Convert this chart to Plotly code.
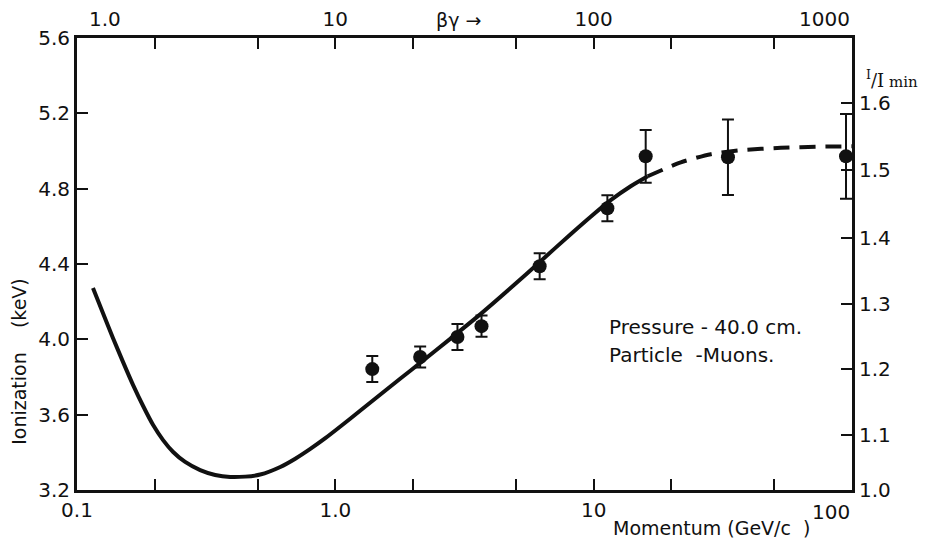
import plotly.graph_objects as go

# ---- data ----
momentum = [1.39, 2.13, 2.97, 3.68, 6.18, 11.3, 15.9, 33.1, 94.8]          # GeV/c
ionization = [3.842, 3.906, 4.012, 4.070, 4.388, 4.696, 4.972, 4.967, 4.972]  # keV
ion_err = [0.069, 0.056, 0.069, 0.056, 0.069, 0.069, 0.14, 0.20, 0.225]

# theoretical curve (solid part)
curve_p = [0.1153, 0.1261, 0.1379, 0.1508, 0.1649, 0.1803, 0.1971, 0.2154, 0.2356,
           0.2622, 0.2998, 0.3426, 0.3917, 0.4479, 0.5121, 0.6122, 0.6998, 0.8000,
           0.9146, 1.0457, 1.2503, 1.4944, 1.7862, 2.136, 2.791, 3.648, 4.768, 6.232,
           8.145, 9.737, 11.64, 13.91, 16.19]
curve_kev = [4.272, 4.139, 4.006, 3.879, 3.757, 3.646, 3.545, 3.465, 3.402,
             3.349, 3.306, 3.280, 3.269, 3.271, 3.282, 3.322, 3.366, 3.418,
             3.475, 3.537, 3.622, 3.707, 3.792, 3.876, 4.004, 4.134, 4.272, 4.415,
             4.558, 4.651, 4.739, 4.813, 4.866]

# extrapolated (dashed) part
dashed_p = [16.19, 21.74, 28.41, 37.14, 53.06, 75.83, 100.0]
dashed_kev = [4.866, 4.940, 4.983, 5.004, 5.017, 5.023, 5.025]

x_tickvals = [0.1, 0.2, 0.5, 1, 2, 5, 10, 20, 50, 100]
x_ticktext = ["0.1", "", "", "1.0", "", "", "10", "", "", ""]
bg_tickvals = [1, 2, 5, 10, 20, 50, 100, 200, 500, 1000]
bg_ticktext = ["", "", "", "10", "", "", "100", "", "", ""]
y_tickvals = [3.2, 3.6, 4.0, 4.4, 4.8, 5.2, 5.6]
y_ticktext = ["3.2", "3.6", "4.0", "4.4", "4.8", "5.2", "5.6"]
ratio_tickvals = [3.2, 3.492, 3.842, 4.187, 4.537, 4.898, 5.253]   # keV level of each I/Imin mark
ratio_ticktext = ["1.0", "1.1", "1.2", "1.3", "1.4", "1.5", "1.6"]

FONT = "DejaVu Sans"
BLACK = "#111111"

fig = go.Figure()

fig.add_trace(go.Scatter(x=curve_p, y=curve_kev, mode="lines",
                         line=dict(color=BLACK, width=4, shape="spline", smoothing=0.6),
                         hoverinfo="skip", showlegend=False))
fig.add_trace(go.Scatter(x=dashed_p, y=dashed_kev, mode="lines",
                         line=dict(color=BLACK, width=4, dash="16px,10px",
                                   shape="spline", smoothing=0.6),
                         hoverinfo="skip", showlegend=False))
fig.add_trace(go.Scatter(x=momentum, y=ionization, mode="markers",
                         marker=dict(color=BLACK, size=14),
                         error_y=dict(type="data", array=ion_err, color=BLACK,
                                      thickness=2, width=6),
                         showlegend=False))
# invisible trace to activate top / right axes
fig.add_trace(go.Scatter(x=[1, 1000], y=[3.2, 3.2], xaxis="x2", yaxis="y2",
                         mode="lines", line=dict(width=0), opacity=0,
                         hoverinfo="skip", showlegend=False))

tickfont = dict(family=FONT, size=20, color=BLACK)
common = dict(ticks="inside", ticklen=11, tickwidth=2, tickcolor=BLACK,
              showline=True, linewidth=3, linecolor=BLACK, showgrid=False,
              zeroline=False, tickfont=tickfont, automargin=False)

# page body adds an 8px offset, so the figure is 8px smaller than the window
fig.update_layout(
    width=920, height=538,
    margin=dict(l=69, r=76, t=30, b=56, autoexpand=False),
    paper_bgcolor="white", plot_bgcolor="white",
    font=dict(family=FONT, color=BLACK),
    xaxis=dict(type="log", range=[-1, 2], tickvals=x_tickvals, ticktext=x_ticktext,
               **common),
    xaxis2=dict(type="log", range=[0, 3], overlaying="x", side="top", anchor="y",
                tickvals=bg_tickvals, ticktext=bg_ticktext, ticklabelstandoff=1,
                **common),
    yaxis=dict(range=[3.2, 5.6], tickvals=y_tickvals, ticktext=y_ticktext, **common),
    yaxis2=dict(range=[3.2, 5.6], overlaying="y", side="right", anchor="x",
                tickvals=ratio_tickvals, ticktext=ratio_ticktext, **common),
)

lab = dict(family=FONT, size=20, color=BLACK)
txt = dict(family=FONT, size=20, color=BLACK)
annotations = [
    # corner tick labels, lettered inside the corners as in the original
    dict(text="100", x=2, y=0, xref="x", yref="paper", xanchor="right", yanchor="top",
         yshift=-8, showarrow=False, font=lab),
    dict(text="1.0", x=0, y=1, xref="x2", yref="paper", xanchor="left", yanchor="bottom",
         xshift=10, yshift=5, showarrow=False, font=lab),
    dict(text="1000", x=3, y=1, xref="x2", yref="paper", xanchor="right", yanchor="bottom",
         yshift=5, showarrow=False, font=lab),
    dict(text="Pressure - 40.0 cm.", x=1.053, y=4.065, xref="x", yref="y",
         xanchor="left", yanchor="middle", showarrow=False, font=txt),
    dict(text="Particle \u00a0-Muons.", x=1.053, y=3.916, xref="x", yref="y",
         xanchor="left", yanchor="middle", showarrow=False, font=txt),
    dict(text="Momentum (GeV/c \u00a0)", x=0.819, y=-0.085, xref="paper", yref="paper",
         xanchor="center", yanchor="middle", showarrow=False,
         font=dict(family=FONT, size=19, color=BLACK)),
    dict(text="\u03b2\u03b3 \u2192", x=0.492, y=1.04, xref="paper", yref="paper",
         xanchor="center", yanchor="middle", showarrow=False,
         font=dict(family=FONT, size=19, color=BLACK)),
    dict(text="<sup>I</sup>/I<span style='font-size:15px'> min</span>", x=1.088, y=0.909,
         xref="paper", yref="paper", xanchor="right", yanchor="middle", showarrow=False,
         font=dict(family="DejaVu Serif", size=18, color=BLACK)),
    dict(text="Ionization \u00a0\u00a0\u00a0(keV)", x=-0.074, y=0.285, xref="paper", yref="paper",
         xanchor="center", yanchor="middle", showarrow=False, textangle=-90,
         font=dict(family=FONT, size=19, color=BLACK)),
]
fig.update_layout(annotations=annotations)

fig.write_html("out.html")
